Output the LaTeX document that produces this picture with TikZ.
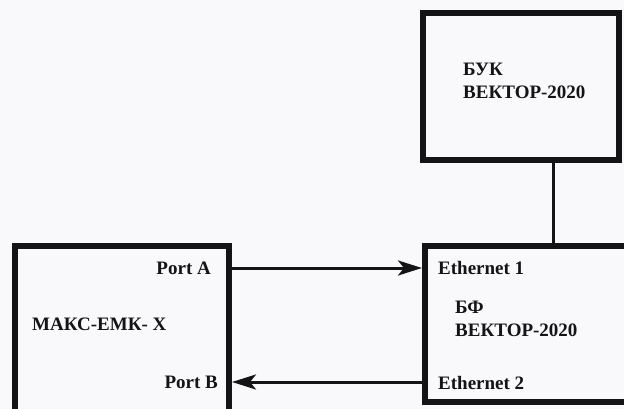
\documentclass[tikz,border=0pt]{standalone}
\usepackage{fontspec}
\setmainfont{Liberation Serif}
\usetikzlibrary{arrows.meta, calc}
\definecolor{paper}{RGB}{249,249,251}
\definecolor{ink}{RGB}{20,20,22}

\begin{document}
\begin{tikzpicture}[x=1pt, y=-1pt, >={Stealth[length=24pt, width=15pt, inset=6pt]},
    block/.style={draw=ink, line width=6pt, inner sep=0pt},
    lbl/.style={font=\bfseries\fontsize{19}{23}\selectfont, text=ink, inner sep=0pt, align=left},
    wire/.style={draw=ink, line width=3pt}]
    \fill[paper] (0,0) rectangle (624,409);
    \useasboundingbox (0,0) rectangle (624,409);
    \clip (0,0) rectangle (624,409);
    \node[block, minimum width=196pt, minimum height=147pt] (buk) at (521,86.5) {};
    \node[block, minimum width=215pt, minimum height=156pt] (bf) at (532.5,324) {};
    \node[block, minimum width=214pt, minimum height=184pt] (maks) at (122,338) {};
    \node[lbl, anchor=west] (buktxt) at (463,81) {БУК\\ВЕКТОР-2020};
    \node[lbl, anchor=west] (bftxt) at (455,319) {БФ\\ВЕКТОР-2020};
    \node[lbl, anchor=west] (makstxt) at (32,324) {МАКС-ЕМК- Х};
    \node[lbl, anchor=east] (porta) at (211,268) {Port A};
    \node[lbl, anchor=east] (portb) at (218,382) {Port B};
    \node[lbl, anchor=west] (eth1) at (438,268) {Ethernet 1};
    \node[lbl, anchor=west] (eth2) at (438,383) {Ethernet 2};
    \coordinate (tap) at ($(buk.south)+(32,0)$);
    \draw[wire, ->] (maks.east |- porta) -- (bf.west |- porta);
    \draw[wire, ->] (bf.west |- portb) -- (maks.east |- portb);
    \draw[wire] (tap) -- (tap |- bf.north);
\end{tikzpicture}
\end{document}
